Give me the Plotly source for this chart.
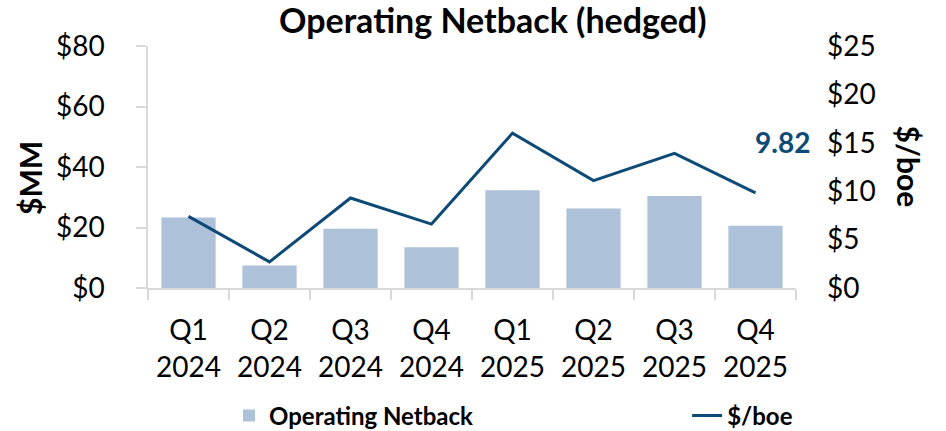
import plotly.graph_objects as go

quarters = ['Q1<br>2024', 'Q2<br>2024', 'Q3<br>2024', 'Q4<br>2024',
            'Q1<br>2025', 'Q2<br>2025', 'Q3<br>2025', 'Q4<br>2025']
netback_mm = [23.3, 7.4, 19.6, 13.5, 32.3, 26.3, 30.4, 20.6]
netback_boe = [7.4, 2.7, 9.3, 6.6, 16.0, 11.1, 13.9, 9.82]

bar_color = '#adc1d9'
line_color = '#0d4a76'
axis_grey = '#d9d9d9'
font_family = 'Lato'

fig = go.Figure(data=[
    go.Bar(name='Operating Netback', x=quarters, y=netback_mm,
           marker_color=bar_color, marker_line_width=0, legend='legend'),
    go.Scatter(name='$/boe', x=quarters, y=netback_boe, mode='lines',
               line=dict(color=line_color, width=3), yaxis='y2',
               legend='legend2')
])

legend_style = dict(orientation='h', xanchor='left', xref='paper',
                    y=0.035, yanchor='middle', yref='container',
                    font=dict(size=24, weight='bold'),
                    bgcolor='rgba(0,0,0,0)')

fig.update_layout(
    width=946, height=431,
    margin=dict(l=148, r=150, t=46, b=143, autoexpand=False),
    paper_bgcolor='white', plot_bgcolor='white',
    bargap=0.33,
    showlegend=True,
    font=dict(family=font_family, size=28, color='black'),
    title=dict(text='<b>Operating Netback (hedged)</b>',
               font=dict(size=34, family=font_family),
               x=0.532, xanchor='center', xref='paper',
               y=0.951, yanchor='middle', yref='container'),
    xaxis=dict(range=[-0.5, 7.5], showline=True, linecolor=axis_grey,
               linewidth=1.5, ticks='outside', tickson='boundaries',
               ticklen=10, tickcolor=axis_grey, tickwidth=1.5,
               automargin=False, showgrid=False, ticklabelstandoff=17),
    yaxis=dict(range=[0, 80], dtick=20, tickprefix='$', showgrid=False,
               showline=True, linecolor=axis_grey, linewidth=1.5,
               ticks='outside', ticklen=10, tickcolor=axis_grey, tickwidth=1.5,
               ticklabelstandoff=26, zeroline=False, automargin=False),
    yaxis2=dict(range=[0, 25], dtick=5, tickprefix='$', showgrid=False,
                overlaying='y', side='right', showline=False, ticks='',
                ticklabelstandoff=30, zeroline=False, automargin=False),
    legend=dict(legend_style, x=0.125),
    legend2=dict(legend_style, x=0.832),
)

# data label on the last point, axis titles
fig.add_annotation(x=quarters[-1], y=netback_boe[-1], xref='x', yref='y2',
                   text='<b>9.82</b>', showarrow=False,
                   font=dict(color=line_color, size=28, family=font_family),
                   xanchor='left', yanchor='middle', xshift=-3, yshift=51)
fig.add_annotation(x=-0.182, y=0.455, xref='paper', yref='paper',
                   text='<b>$MM</b>', showarrow=False, textangle=-90,
                   font=dict(size=30, family=font_family),
                   xanchor='center', yanchor='middle')
fig.add_annotation(x=1.175, y=0.5, xref='paper', yref='paper',
                   text='<b>$/boe</b>', showarrow=False, textangle=90,
                   font=dict(size=30, family=font_family),
                   xanchor='center', yanchor='middle')

fig.write_html('out.html', config={'displayModeBar': False},
               post_script="document.body.style.margin='0';")
